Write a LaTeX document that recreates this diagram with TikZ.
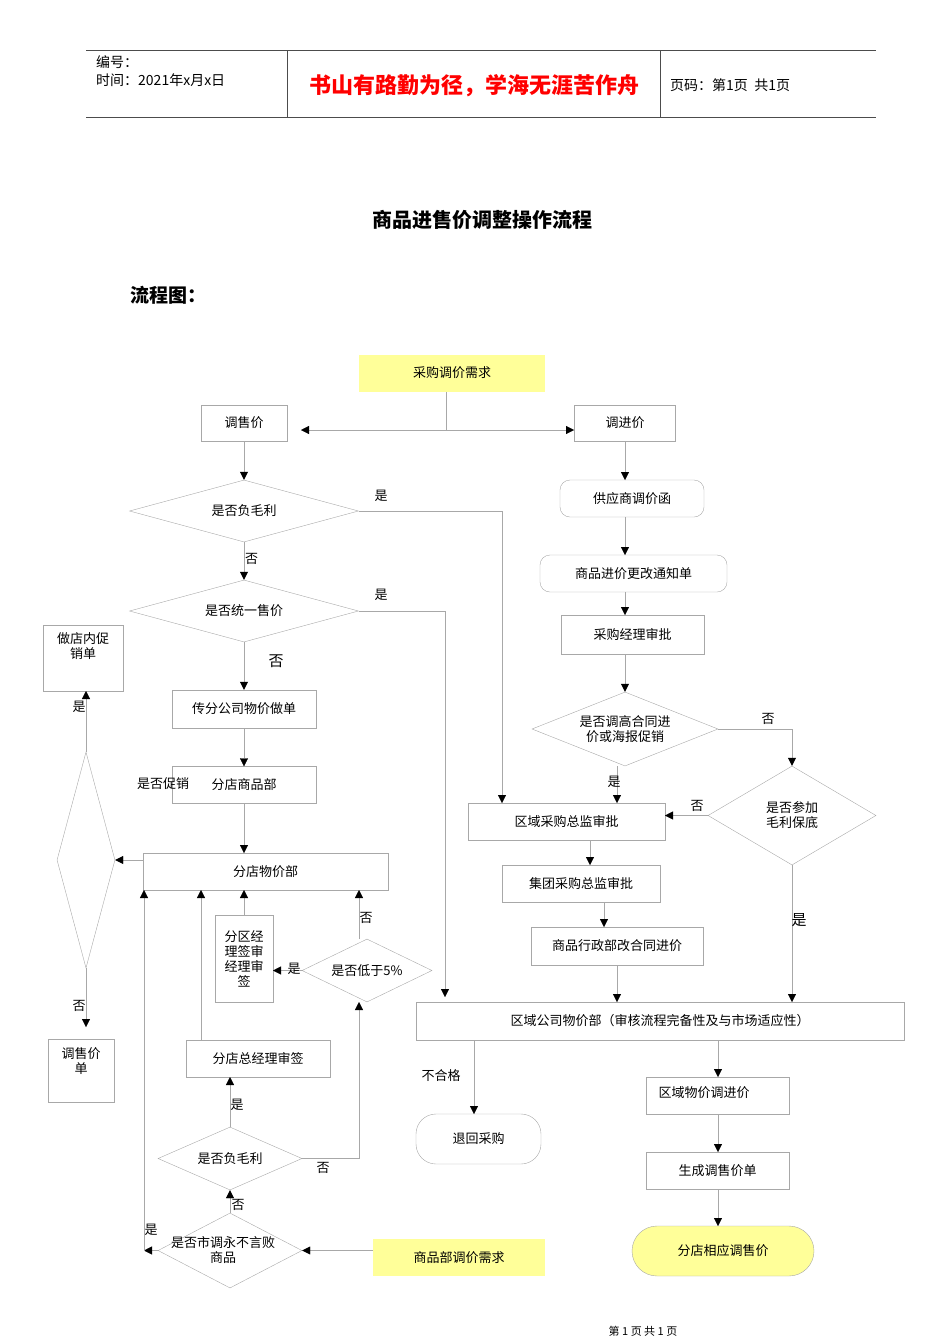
\documentclass[tikz,border=0pt]{standalone}
\usepackage{fontspec}
\setmainfont{Noto Sans CJK SC}
\newfontfamily\cjkserif{Noto Sans CJK SC}
\usetikzlibrary{arrows.meta,shapes.geometric}
\definecolor{ln}{HTML}{A8A8A8}
\definecolor{yel}{HTML}{FFFF99}
\begin{document}
\begin{tikzpicture}[x=1pt,y=-1pt,
  every node/.style={font=\fontsize{13}{15}\selectfont,inner sep=0pt,align=center},
  box/.style={draw=ln,rectangle},
  rbox/.style={draw=ln,rounded corners=10pt},
  dia/.style={draw=ln,diamond,aspect=2},
  ar/.style={draw=ln,-{Triangle[color=black,length=8pt,width=8pt]}},
  pl/.style={draw=ln},
  lab/.style={font=\fontsize{13}{15}\selectfont}]
\useasboundingbox (0,0) rectangle (950,1344);
% header
\draw[black!70] (86,50) -- (876,50) (86,117) -- (876,117) (287,50) -- (287,117) (660,50) -- (660,117);
\node[anchor=west,font=\fontsize{14}{16}\selectfont] (h1) at (96,62) {编号：};
\node[anchor=west,font=\fontsize{14}{16}\selectfont] (h2) at (96,80) {时间：2021年x月x日};
\node[text=red,font=\fontsize{22}{24}\selectfont\bfseries] (h3) at (474,86) {书山有路勤为径，学海无涯苦作舟};
\node[anchor=west,font=\fontsize{14}{16}\selectfont] (h4) at (670,85) {页码：第1页\ \ 共1页};
\node[font=\fontsize{20}{22}\selectfont\bfseries] (title) at (482,220) {商品进售价调整操作流程};
\node[anchor=west,font=\fontsize{19}{21}\selectfont\bfseries] (lc) at (130,295) {流程图：};
% nodes
\node[fill=yel,minimum width=186,minimum height=37] (req) at (452,373) {采购调价需求};
\node[box,minimum width=86,minimum height=36] (tsj) at (244,423) {调售价};
\node[box,minimum width=101,minimum height=36] (tjj) at (625,423) {调进价};
\node[dia,minimum width=229,minimum height=62] (d1) at (244,511) {是否负毛利};
\node[dia,minimum width=229,minimum height=62] (d2) at (244,611) {是否统一售价};
\node[box,minimum width=144,minimum height=38] (cf) at (244,709) {传分公司物价做单};
\node[box,minimum width=144,minimum height=37] (fdsp) at (244,785) {分店商品部};
\node[box,minimum width=245,minimum height=37] (fdwj) at (265.5,871.5) {分店物价部};
\node[draw=ln,diamond,minimum width=58,minimum height=216,aspect=0.27,inner sep=0] (d3) at (86,860) {};
\node[box,minimum width=80,minimum height=66,anchor=north] (zdn) at (83,625) {};
\node[anchor=north] at (83,632) {做店内促\\销单};
\node[box,minimum width=66,minimum height=63,anchor=north] (tsjd) at (81,1039) {};
\node[anchor=north] at (81,1047) {调售价\\单};
\node[box,minimum width=58,minimum height=87] (fq) at (244,958.5) {分区经\\理签审\\经理审\\签};
\node[dia,minimum width=130,minimum height=63] (d6) at (367,970.5) {是否低于5\%};
\node[box,minimum width=144,minimum height=37] (zjl) at (258,1058.5) {分店总经理审签};
\node[dia,minimum width=144,minimum height=63] (d5) at (230,1158.5) {是否负毛利};
\node[draw=ln,diamond,minimum width=144,minimum height=75,aspect=2] (d4) at (230,1250.5) {};
\node at (223,1250) {是否市调永不言败\\商品};
\node[fill=yel,minimum width=172,minimum height=37] (spb) at (459,1257.5) {商品部调价需求};
% right
\node[rbox,minimum width=144,minimum height=37] (gys) at (632,498.5) {供应商调价函};
\node[rbox,minimum width=187,minimum height=37] (tzd) at (633.5,573.5) {商品进价更改通知单};
\node[box,minimum width=143,minimum height=39] (cgjl) at (632.5,634.5) {采购经理审批};
\node[dia,minimum width=186,minimum height=74] (d7) at (625,729) {是否调高合同进\\价或海报促销};
\node[dia,minimum width=168,minimum height=99] (d8) at (792,815.5) {是否参加\\毛利保底};
\node[box,minimum width=197,minimum height=37] (qycg) at (566.5,821.5) {区域采购总监审批};
\node[box,minimum width=158,minimum height=37] (jt) at (581,883.5) {集团采购总监审批};
\node[box,minimum width=172,minimum height=38] (xz) at (617,946) {商品行政部改合同进价};
\node[box,minimum width=488,minimum height=38] (qygs) at (660,1021) {区域公司物价部（审核流程完备性及与市场适应性）};
\node[draw=ln,rounded corners=20pt,minimum width=125,minimum height=50] (th) at (478.5,1139) {退回采购};
\node[box,minimum width=143,minimum height=37] (qywj) at (717.5,1095.5) {};
\node at (704,1093) {区域物价调进价};
\node[box,minimum width=143,minimum height=37] (sc) at (717.5,1170.5) {生成调售价单};
\node[draw=ln,fill=yel,rounded corners=25pt,minimum width=182,minimum height=50] (fdxy) at (723,1251) {分店相应调售价};
\node[font=\cjkserif\fontsize{11}{13}\selectfont] (foot) at (643,1331) {第\ 1\ 页\ 共\ 1\ 页};
% connectors
\draw[pl] (446,392) -- (446,430) coordinate (sp);
\draw[ar] (sp) -- (301,430);
\draw[ar] (sp) -- (574,430);
\draw[ar] (tsj.south) -- (d1.north);
\draw[ar] (d1.south) -- node[right,pos=0.45,xshift=1pt]{否} (d2.north);
\draw[ar] (d1.east) -- (502,511) -- (502,803);
\node[lab] at (381,496) {是};
\draw[ar] (d2.east) -- (445,611) -- (445,997);
\node[lab] at (381,595) {是};
\draw[ar] (d2.south) -- (cf.north);
\node[font=\fontsize{15}{17}\selectfont] at (276,661) {否};
\draw[ar] (cf.south) -- (fdsp.north);
\node[lab] at (163,784) {是否促销};
\draw[ar] (fdsp.south) -- (244,853);
\draw[ar] (143,860) -- (d3.east);
\draw[ar] (d3.north) -- (86,691);
\node[lab] at (79,707) {是};
\draw[ar] (d3.south) -- (86,1027);
\node[lab] at (79,1006) {否};
\draw[ar] (d4.west) -- (144,1250.5);
\draw[ar] (144,1250.5) -- (144,890);
\node[lab] at (151,1230) {是};
\draw[ar] (373,1250.5) -- (d4.east);
\draw[ar] (d4.north) -- (d5.south);
\node[lab] at (238,1205) {否};
\draw[ar] (d5.north) -- (230,1077);
\node[lab] at (237,1105) {是};
\draw[ar] (d5.east) -- (359,1158.5) -- (359,1002);
\node[lab] at (323,1168) {否};
\draw[ar] (201,1040) -- (201,890);
\draw[ar] (d6.west) -- (273,970.5);
\node[lab] at (294,969) {是};
\draw[ar] (359,939) -- (359,890);
\node[lab] at (366,918) {否};
\draw[ar] (fq.north) -- (244,890);
% right connectors
\draw[ar] (tjj.south) -- (625,480);
\draw[ar] (625,517) -- (625,555);
\draw[ar] (625,592) -- (625,615);
\draw[ar] (625,654) -- (d7.north);
\draw[ar] (d7.east) -- (792,729) -- (d8.north);
\node[lab] at (768,719) {否};
\draw[ar] (d8.west) -- (665,815.5);
\node[lab] at (697,806) {否};
\draw[ar] (d8.south) -- (792,1002);
\node[font=\fontsize{15}{17}\selectfont] at (799,920) {是};
\draw[ar] (617,766) -- (617,803);
\node[lab] at (614,782) {是};
\draw[ar] (590,840) -- (590,865);
\draw[ar] (604,902) -- (604,927);
\draw[ar] (617,965) -- (617,1002);
\draw[ar] (474,1040) -- (474,1114);
\node[lab] at (441,1076) {不合格};
\draw[ar] (718,1040) -- (718,1077);
\draw[ar] (718,1114) -- (718,1152);
\draw[ar] (718,1189) -- (718,1226);
\end{tikzpicture}
\end{document}
